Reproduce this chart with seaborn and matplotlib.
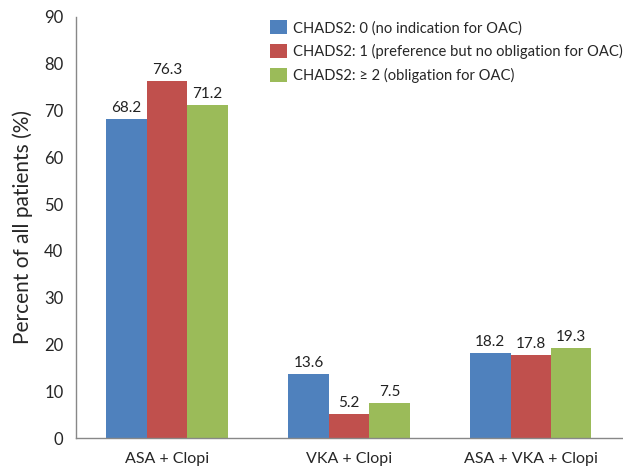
import matplotlib
matplotlib.use("Agg")
import matplotlib.pyplot as plt
import numpy as np
import pandas as pd
import seaborn as sns

categories = ["ASA + Clopi", "VKA + Clopi", "ASA + VKA + Clopi"]
series = ["CHADS2: 0 (no indication for OAC)",
          "CHADS2: 1 (preference but no obligation for OAC)",
          "CHADS2: \u2265 2 (obligation for OAC)"]
chads0 = [68.2, 13.6, 18.2]
chads1 = [76.3, 5.2, 17.8]
chads2 = [71.2, 7.5, 19.3]
colors = ["#4F81BD", "#C0504D", "#9BBB59"]

df = pd.DataFrame({
    "therapy": categories * 3,
    "group": [series[0]] * 3 + [series[1]] * 3 + [series[2]] * 3,
    "value": chads0 + chads1 + chads2,
})

sns.set_style("white")
plt.rcParams["font.family"] = ["Lato", "DejaVu Sans"]

fig = plt.figure(figsize=(6.23, 4.71), dpi=100)
ax = fig.add_axes([0.122, 0.070, 0.876, 0.894])
sns.barplot(data=df, x="therapy", y="value", hue="group", palette=colors,
            width=0.667, saturation=1, linewidth=0, ax=ax, legend=True)

for c in ax.containers:
    ax.bar_label(c, fmt="%.1f", padding=3, fontsize=11, color="#222222")

ax.set_ylim(0, 90)
ax.set_yticks(np.arange(0, 91, 10))
ax.set_xlim(-0.5, 2.5)
ax.set_xticks(range(3))
ax.set_xticklabels(categories, fontsize=11.5)
ax.set_xticks([-0.5, 0.5, 1.5, 2.5], minor=True)
ax.tick_params(axis="x", which="major", length=0, pad=10)
ax.tick_params(axis="x", which="minor", length=5, color="#888888", direction="out")
ax.tick_params(axis="y", length=5, color="#888888", direction="out", labelsize=12, pad=4)
ax.set_xlabel("")
ax.set_ylabel("Percent of all patients (%)", fontsize=15, labelpad=8)

sns.despine(ax=ax)
for s in ["left", "bottom"]:
    ax.spines[s].set_color("#888888")
    ax.spines[s].set_linewidth(1)

ax.legend(title=None, frameon=False, loc="upper left", bbox_to_anchor=(0.34, 1.013),
          fontsize=10.6, handlelength=1.1, handleheight=1.1, labelspacing=0.6,
          handletextpad=0.45, borderaxespad=0.2)

fig.savefig("out.png", dpi=100)
